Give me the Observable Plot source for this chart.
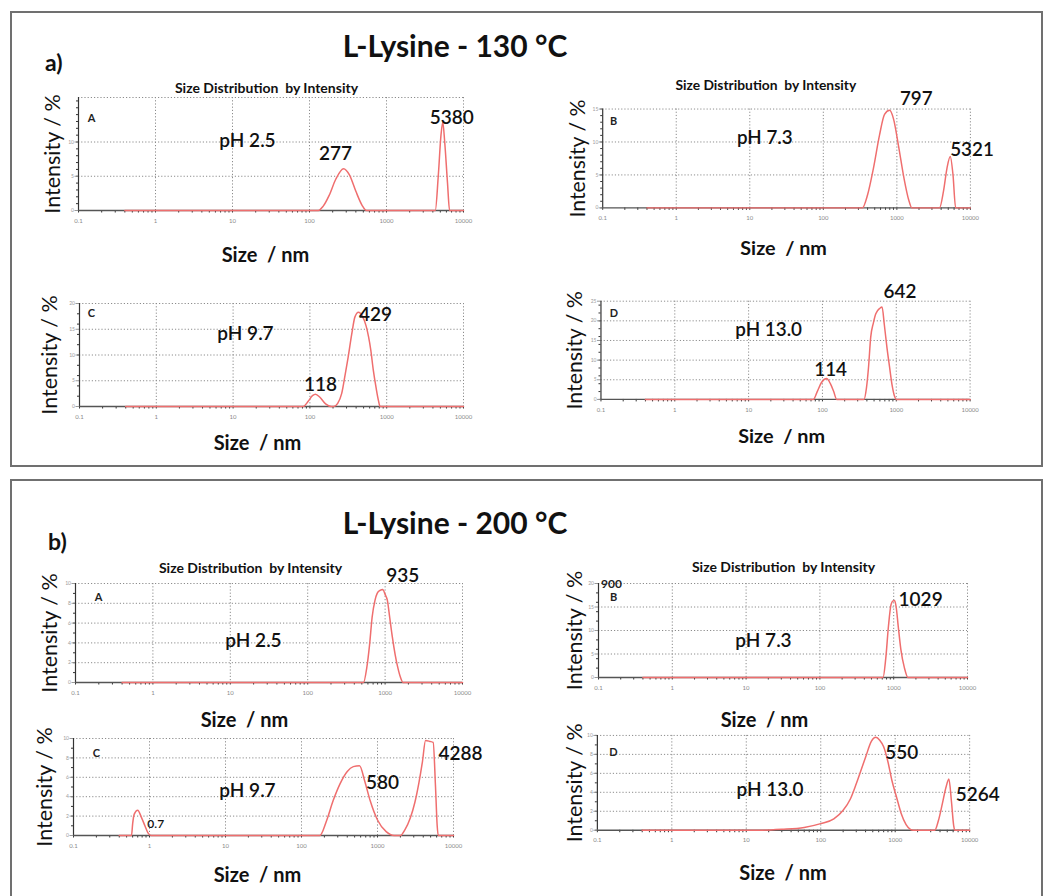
<!DOCTYPE html>
<html>
<head>
<meta charset="utf-8">
<script src="https://cdn.jsdelivr.net/npm/d3@7"></script>
<script src="https://cdn.jsdelivr.net/npm/@observablehq/plot@0.6"></script>
<style>
  body { margin: 0; background: #fff; font-family: Lato, "Open Sans", sans-serif; }
  #fig { position: relative; width: 1049px; height: 896px; overflow: hidden; background: #fff; }
  .box { position: absolute; border: 2px solid #707070; box-sizing: border-box; }
  .head { position: absolute; font-weight: 700; color: #111; white-space: nowrap; line-height: 1; }
  .panel { position: absolute; }
  .panel svg { overflow: visible; }
</style>
</head>
<body>
<div id="fig"></div>
<script>
// Size axis (nm), log scale, labelled decades
const sizeTicks = [0.1, 1, 10, 100, 1000, 10000];

// L-Lysine 130 °C — intensity (%) against hydrodynamic size (nm)
const l130_pH25 = [[0.4,0],[130,0],[150,0.6],[180,2.2],[220,4.6],[277,6.1],[330,5.2],[400,2.8],[480,0.8],[550,0],
  [4300,0],[4700,5],[5100,11],[5380,12.9],[5700,10],[6200,4],[6600,0],[10000,0]];
const l130_pH73 = [[0.4,0],[340,0],[400,2],[480,6],[580,11],[680,14.2],[797,14.8],[900,13.5],[1050,9.5],[1250,4.5],[1450,1.2],[1600,0],
  [3800,0],[4300,2.5],[4800,6],[5321,7.8],[5800,5],[6300,0],[10000,0]];
const l130_pH97 = [[0.4,0],[82,0],[95,1],[108,2.1],[118,2.4],[135,1.8],[160,0.5],[190,0],[205,0],[230,0.6],[259,2.5],[290,6.5],[315,9.6],
  [350,14],[386,17.4],[429,18.3],[480,17.6],[540,15.6],[620,11],[670,7],[730,3.5],[780,1.2],[820,0],[10000,0]];
const l130_pH130 = [[0.4,0],[75,0],[85,2],[97,4.3],[114,5.3],[128,4],[142,2],[156,0],
  [365,0],[395,3],[420,8],[451,15.9],[490,19.5],[528,21.8],[600,23.2],[642,23.5],[689,19],[750,13],[809,8.4],[880,3.5],[947,0.8],[1000,0],[10000,0]];

// L-Lysine 200 °C
const l200_pH25 = [[0.4,0],[526,0],[580,1.5],[630,3.8],[680,6.6],[740,8.3],[790,9.0],[860,9.3],[935,9.4],[1000,8.9],[1070,8.3],
  [1150,6.5],[1240,4.6],[1350,2.8],[1460,1.5],[1600,0.4],[1700,0],[10000,0]];
const l200_pH73 = [[0.4,0],[717,0],[780,4],[850,11],[920,15.5],[980,16.3],[1029,16.4],[1080,15],[1150,11],[1250,6],[1400,2],[1560,0],[10000,0]];
const l200_pH97 = [[0.4,0],[0.58,0],[0.6,1.2],[0.63,2.2],[0.7,2.6],[0.78,1.9],[0.87,1.0],[0.95,0.3],[1.05,0],
  [174,0],[213,1.5],[261,3.6],[320,5.3],[400,6.6],[480,7.1],[580,7.2],[680,5.6],[800,3.6],[1000,1.6],[1300,0.4],[1657,0],
  [2000,0],[2300,0.6],[2700,1.8],[3100,3.4],[3500,5.4],[3900,7.6],[4288,9.8],[4900,9.7],[5400,9.6],[5800,5],[6100,1],[6300,0],[10000,0]];
const l200_pH130 = [[0.4,0],[15,0],[30,0.1],[60,0.3],[100,0.7],[150,1.2],[200,2.1],[250,3.3],[300,4.9],[400,7.7],[480,9.4],[550,9.8],
  [620,9.5],[700,8.8],[800,7.2],[900,5.3],[1050,3.4],[1200,1.8],[1400,0.6],[1600,0.1],[1750,0],
  [3400,0],[3800,1],[4300,2.8],[4800,4.5],[5264,5.4],[5700,3],[6100,0.5],[6300,0],[10000,0]];

// Peak sizes printed beside each distribution (nm)
const l130_pH25_peaks = [277, 5380];
const l130_pH73_peaks = [797, 5321];
const l130_pH97_peaks = [118, 429];
const l130_pH130_peaks = [114, 642];
const l200_pH25_peaks = [935];
const l200_pH73_peaks = [1029];
const l200_pH97_peaks = [0.7, 580, 4288];
const l200_pH130_peaks = [550, 5264];

// Intensity tick values for each panel
const yTicks_aA = [0, 5, 10];
const yTicks_aB = [0, 5, 10, 15];
const yTicks_aC = [0, 5, 10, 15, 20];
const yTicks_aD = [0, 5, 10, 15, 20, 25];
const yTicks_bA = [0, 2, 4, 6, 8, 10];
const yTicks_bB = [0, 5, 10, 15, 20];
const yTicks_bC = [0, 2, 4, 6, 8, 10];
const yTicks_bD = [0, 2, 4, 6, 8, 10];

const fig = document.getElementById("fig");

// Panel layout: frame = [left, top, right, bottom] in page pixels; text positions are centres
const panels = [
  {data: l130_pH25, peaks: l130_pH25_peaks, peakOff: [[-8,-15],[9,-4]], ymax: 16.5, yticks: yTicks_aA, yminor: 16,
   frame: [78, 97, 463, 210], letter: "A", letterAt: [91, 118], ph: "pH 2.5", phAt: [247, 140],
   titleAt: [266, 88], xlabAt: [265, 255], ylabX: 53},
  {data: l130_pH73, peaks: l130_pH73_peaks, peakOff: [[27,-11],[22,-7]], ymax: 15, yticks: yTicks_aB, yminor: 15,
   frame: [603, 109, 975, 209], letter: "B", letterAt: [614, 122], ph: "pH 7.3", phAt: [767, 138],
   titleAt: [768, 85], xlabAt: [786, 250], ylabX: 578},
  {data: l130_pH97, peaks: l130_pH97_peaks, peakOff: [[5,-9],[17,3]], ymax: 20, yticks: yTicks_aC, yminor: 10,
   frame: [79, 303, 463, 406], letter: "C", letterAt: [91, 313], ph: "pH 9.7", phAt: [245, 333],
   xlabAt: [257, 443], ylabX: 50},
  {data: l130_pH130, peaks: l130_pH130_peaks, peakOff: [[4,-9],[18,-15]], ymax: 25, yticks: yTicks_aD, yminor: 12,
   frame: [601, 301, 973, 400], letter: "D", letterAt: [614, 313], ph: "pH 13.0", phAt: [770, 330],
   xlabAt: [783, 437], ylabX: 575},
  {data: l200_pH25, peaks: l200_pH25_peaks, peakOff: [[20,-14]], ymax: 10, yticks: yTicks_bA, yminor: 10,
   frame: [75, 583, 462, 682], letter: "A", letterAt: [98, 597], ph: "pH 2.5", phAt: [253, 640],
   titleAt: [250, 568], xlabAt: [244, 720], ylabX: 50},
  {data: l200_pH73, peaks: l200_pH73_peaks, peakOff: [[26,-1]], ymax: 20, yticks: yTicks_bB, yminor: 8,
   frame: [598, 583, 967, 677], letter: "B", letterAt: [613, 597], ph: "pH 7.3", phAt: [763, 640],
   titleAt: [783, 567], xlabAt: [764, 720], ylabX: 575, corner: "900", cornerAt: [611, 584]},
  {data: l200_pH97, peaks: l200_pH97_peaks, peakOff: [[18,14],[23,17],[35,13]], ymax: 10, yticks: yTicks_bC, yminor: 10,
   frame: [73, 738, 453, 835], letter: "C", letterAt: [96, 753], ph: "pH 9.7", phAt: [247, 790],
   xlabAt: [257, 875], ylabX: 45},
  {data: l200_pH130, peaks: l200_pH130_peaks, peakOff: [[26,16],[29,16]], ymax: 10, yticks: yTicks_bD, yminor: 10,
   frame: [597, 735, 970, 830], letter: "D", letterAt: [613, 752], ph: "pH 13.0", phAt: [770, 790],
   xlabAt: [783, 873], ylabX: 575}
];

// Framing boxes and headings
function addBox(l, t, w, h) {
  const b = document.createElement("div");
  b.className = "box";
  Object.assign(b.style, {left: l + "px", top: t + "px", width: w + "px", height: h + "px"});
  fig.appendChild(b);
}
function addHead(text, x, y, size, center) {
  const d = document.createElement("div");
  d.className = "head";
  d.textContent = text;
  Object.assign(d.style, {left: x + "px", top: (y - size / 2) + "px", fontSize: size + "px"});
  if (center) d.style.transform = "translateX(-50%)";
  fig.appendChild(d);
}
addBox(10, 11, 1033, 456);
addBox(10, 479, 1033, 430);
addHead("L-Lysine - 130 °C", 455, 45, 30, true);
addHead("a)", 45, 62, 23, false);
addHead("L-Lysine - 200 °C", 455, 522, 30, true);
addHead("b)", 48, 541, 23, false);

const gridStyle = {stroke: "#8c8c8c", strokeOpacity: 1, strokeWidth: 1, strokeDasharray: "1.2,2"};

function drawPanel(p) {
  const [x0, y0, x1, y1] = p.frame;
  const ml = 70, mr = 80, mt = 40, mb = 60;
  const width = x1 - x0 + ml + mr, height = y1 - y0 + mt + mb;
  // centred text at a page position, expressed as an offset from the frame's top-left corner
  const at = ([ax, ay]) => ({frameAnchor: "top-left", dx: ax - x0, dy: ay - y0, textAnchor: "middle", lineAnchor: "middle"});
  const heightAt = s => p.data.find(d => d[0] === s)[1];
  const gridVals = p.yticks.filter(v => v > 0);
  if (!gridVals.includes(p.ymax)) gridVals.push(p.ymax);

  const marks = [
    Plot.gridX(sizeTicks.slice(1), gridStyle),
    Plot.gridY(gridVals, gridStyle),
    Plot.axisX({ticks: 45, tickFormat: () => "", tickSize: 2.5, stroke: "#333", label: null}),
    Plot.axisX(sizeTicks, {tickSize: 0, tickPadding: 8, fontSize: 6, color: "#8a8a8a", tickFormat: d => String(d), label: null}),
    Plot.axisY({ticks: p.yminor, tickFormat: () => "", tickSize: 2, stroke: "#333", label: null}),
    Plot.axisY(p.yticks, {tickSize: 3.5, tickPadding: 1, fontSize: 5, color: "#9a9a9a", label: null}),
    Plot.ruleX([0.1], {stroke: "#333", strokeWidth: 1.2}),
    Plot.ruleY([0], {stroke: "#555", strokeWidth: 1.4}),
    Plot.line(p.data, {x: d => d[0], y: d => d[1], stroke: "#ef6e6e", strokeWidth: 1.5, curve: "monotone-x"}),
    Plot.text([p.letter], {...at(p.letterAt), fontSize: 11, fontWeight: 700, fill: "#222"}),
    Plot.text([p.ph], {...at(p.phAt), fontSize: 19, fontWeight: 600, fill: "#111"}),
    Plot.text(["Size  / nm"], {...at(p.xlabAt), fontSize: 20, fontWeight: 700, fill: "#111"}),
    Plot.text(["Intensity / %"], {frameAnchor: "left", textAnchor: "middle", lineAnchor: "middle",
      dx: p.ylabX - x0, rotate: -90, fontSize: 21.5, fill: "#111"})
  ];
  if (p.titleAt) marks.push(Plot.text(["Size Distribution  by Intensity"], {...at(p.titleAt), fontSize: 14, fontWeight: 700, fill: "#111"}));
  if (p.corner) marks.push(Plot.text([p.corner], {...at(p.cornerAt), fontSize: 12, fontWeight: 700, fill: "#222"}));
  p.peaks.forEach((s, i) => {
    marks.push(Plot.text([s], {
      x: d => d, y: d => heightAt(d), text: d => String(d),
      dx: p.peakOff[i][0], dy: p.peakOff[i][1],
      fontSize: s < 1 ? 12 : 19, fontWeight: 600, fill: "#111"
    }));
  });

  const chart = Plot.plot({
    width, height,
    marginLeft: ml, marginRight: mr, marginTop: mt, marginBottom: mb,
    x: {type: "log", domain: [0.1, 10000]},
    y: {domain: [0, p.ymax]},
    style: {background: "transparent", fontFamily: "Lato, 'Open Sans', sans-serif", overflow: "visible"},
    marks
  });
  const wrap = document.createElement("div");
  wrap.className = "panel";
  wrap.style.left = (x0 - ml) + "px";
  wrap.style.top = (y0 - mt) + "px";
  wrap.appendChild(chart);
  fig.appendChild(wrap);
}

panels.forEach(drawPanel);
</script>
</body>
</html>
